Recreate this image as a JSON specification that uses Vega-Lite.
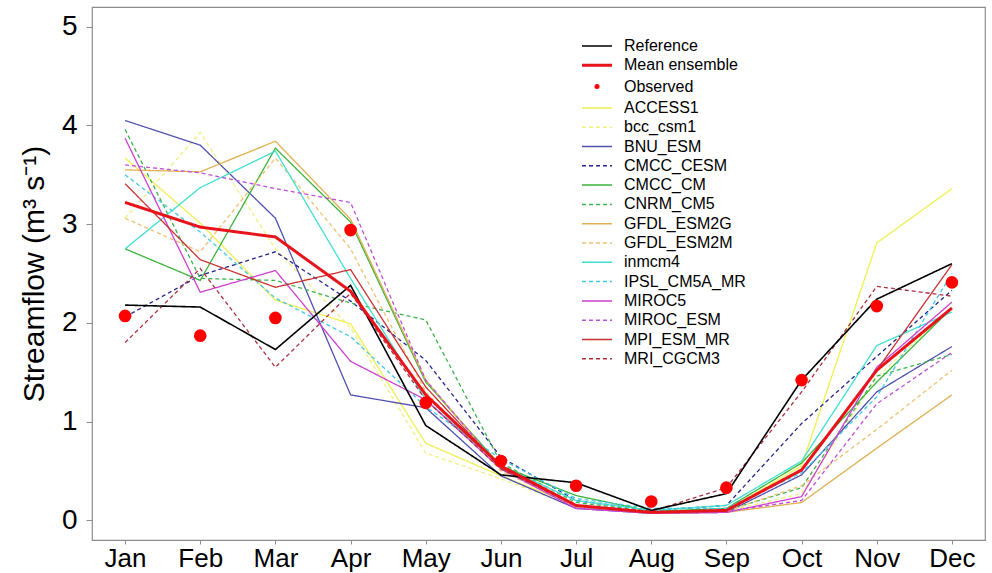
{
  "$schema": "https://vega.github.io/schema/vega-lite/v6.json",
  "width": 893,
  "height": 533,
  "autosize": "none",
  "padding": {"left": 92, "top": 7, "right": 7, "bottom": 33},
  "background": "white",
  "config": {
    "font": "Liberation Sans",
    "view": {"stroke": "#8c8c8c", "strokeWidth": 1.2},
    "axis": {"grid": false, "domain": false, "labelFont": "Liberation Sans", "titleFont": "Liberation Sans", "labelColor": "#000", "titleColor": "#000", "tickColor": "#8c8c8c", "labelFontSize": 26, "titleFontSize": 30, "titleFontWeight": "normal"}
  },
  "data": {"values": [
    {"month":"Jan","series":"Reference","value":2.18},{"month":"Feb","series":"Reference","value":2.16},{"month":"Mar","series":"Reference","value":1.73},{"month":"Apr","series":"Reference","value":2.38},{"month":"May","series":"Reference","value":0.96},{"month":"Jun","series":"Reference","value":0.46},{"month":"Jul","series":"Reference","value":0.38},{"month":"Aug","series":"Reference","value":0.10},{"month":"Sep","series":"Reference","value":0.27},{"month":"Oct","series":"Reference","value":1.42},{"month":"Nov","series":"Reference","value":2.24},{"month":"Dec","series":"Reference","value":2.60},
    {"month":"Jan","series":"Mean ensemble","value":3.22},{"month":"Feb","series":"Mean ensemble","value":2.97},{"month":"Mar","series":"Mean ensemble","value":2.87},{"month":"Apr","series":"Mean ensemble","value":2.32},{"month":"May","series":"Mean ensemble","value":1.27},{"month":"Jun","series":"Mean ensemble","value":0.55},{"month":"Jul","series":"Mean ensemble","value":0.15},{"month":"Aug","series":"Mean ensemble","value":0.08},{"month":"Sep","series":"Mean ensemble","value":0.10},{"month":"Oct","series":"Mean ensemble","value":0.51},{"month":"Nov","series":"Mean ensemble","value":1.52},{"month":"Dec","series":"Mean ensemble","value":2.15},
    {"month":"Jan","series":"Observed","value":2.07},{"month":"Feb","series":"Observed","value":1.87},{"month":"Mar","series":"Observed","value":2.05},{"month":"Apr","series":"Observed","value":2.94},{"month":"May","series":"Observed","value":1.19},{"month":"Jun","series":"Observed","value":0.60},{"month":"Jul","series":"Observed","value":0.35},{"month":"Aug","series":"Observed","value":0.19},{"month":"Sep","series":"Observed","value":0.33},{"month":"Oct","series":"Observed","value":1.42},{"month":"Nov","series":"Observed","value":2.17},{"month":"Dec","series":"Observed","value":2.41},
    {"month":"Jan","series":"ACCESS1","value":3.67},{"month":"Feb","series":"ACCESS1","value":3.01},{"month":"Mar","series":"ACCESS1","value":2.23},{"month":"Apr","series":"ACCESS1","value":1.99},{"month":"May","series":"ACCESS1","value":0.78},{"month":"Jun","series":"ACCESS1","value":0.45},{"month":"Jul","series":"ACCESS1","value":0.15},{"month":"Aug","series":"ACCESS1","value":0.08},{"month":"Sep","series":"ACCESS1","value":0.10},{"month":"Oct","series":"ACCESS1","value":0.55},{"month":"Nov","series":"ACCESS1","value":2.81},{"month":"Dec","series":"ACCESS1","value":3.36},
    {"month":"Jan","series":"bcc_csm1","value":3.06},{"month":"Feb","series":"bcc_csm1","value":3.93},{"month":"Mar","series":"bcc_csm1","value":2.75},{"month":"Apr","series":"bcc_csm1","value":1.95},{"month":"May","series":"bcc_csm1","value":0.68},{"month":"Jun","series":"bcc_csm1","value":0.42},{"month":"Jul","series":"bcc_csm1","value":0.13},{"month":"Aug","series":"bcc_csm1","value":0.07},{"month":"Sep","series":"bcc_csm1","value":0.09},{"month":"Oct","series":"bcc_csm1","value":0.27},{"month":"Nov","series":"bcc_csm1","value":1.45},{"month":"Dec","series":"bcc_csm1","value":2.15},
    {"month":"Jan","series":"BNU_ESM","value":4.05},{"month":"Feb","series":"BNU_ESM","value":3.80},{"month":"Mar","series":"BNU_ESM","value":3.06},{"month":"Apr","series":"BNU_ESM","value":1.27},{"month":"May","series":"BNU_ESM","value":1.14},{"month":"Jun","series":"BNU_ESM","value":0.45},{"month":"Jul","series":"BNU_ESM","value":0.12},{"month":"Aug","series":"BNU_ESM","value":0.07},{"month":"Sep","series":"BNU_ESM","value":0.08},{"month":"Oct","series":"BNU_ESM","value":0.46},{"month":"Nov","series":"BNU_ESM","value":1.30},{"month":"Dec","series":"BNU_ESM","value":1.76},
    {"month":"Jan","series":"CMCC_CESM","value":2.06},{"month":"Feb","series":"CMCC_CESM","value":2.48},{"month":"Mar","series":"CMCC_CESM","value":2.72},{"month":"Apr","series":"CMCC_CESM","value":2.22},{"month":"May","series":"CMCC_CESM","value":1.62},{"month":"Jun","series":"CMCC_CESM","value":0.64},{"month":"Jul","series":"CMCC_CESM","value":0.20},{"month":"Aug","series":"CMCC_CESM","value":0.10},{"month":"Sep","series":"CMCC_CESM","value":0.15},{"month":"Oct","series":"CMCC_CESM","value":0.98},{"month":"Nov","series":"CMCC_CESM","value":1.66},{"month":"Dec","series":"CMCC_CESM","value":2.33},
    {"month":"Jan","series":"CMCC_CM","value":2.75},{"month":"Feb","series":"CMCC_CM","value":2.43},{"month":"Mar","series":"CMCC_CM","value":3.77},{"month":"Apr","series":"CMCC_CM","value":3.02},{"month":"May","series":"CMCC_CM","value":1.40},{"month":"Jun","series":"CMCC_CM","value":0.55},{"month":"Jul","series":"CMCC_CM","value":0.25},{"month":"Aug","series":"CMCC_CM","value":0.09},{"month":"Sep","series":"CMCC_CM","value":0.12},{"month":"Oct","series":"CMCC_CM","value":0.58},{"month":"Nov","series":"CMCC_CM","value":1.40},{"month":"Dec","series":"CMCC_CM","value":2.15},
    {"month":"Jan","series":"CNRM_CM5","value":3.96},{"month":"Feb","series":"CNRM_CM5","value":2.45},{"month":"Mar","series":"CNRM_CM5","value":2.43},{"month":"Apr","series":"CNRM_CM5","value":2.20},{"month":"May","series":"CNRM_CM5","value":2.03},{"month":"Jun","series":"CNRM_CM5","value":0.58},{"month":"Jul","series":"CNRM_CM5","value":0.18},{"month":"Aug","series":"CNRM_CM5","value":0.09},{"month":"Sep","series":"CNRM_CM5","value":0.10},{"month":"Oct","series":"CNRM_CM5","value":0.33},{"month":"Nov","series":"CNRM_CM5","value":1.46},{"month":"Dec","series":"CNRM_CM5","value":1.68},
    {"month":"Jan","series":"GFDL_ESM2G","value":3.55},{"month":"Feb","series":"GFDL_ESM2G","value":3.53},{"month":"Mar","series":"GFDL_ESM2G","value":3.84},{"month":"Apr","series":"GFDL_ESM2G","value":3.05},{"month":"May","series":"GFDL_ESM2G","value":1.42},{"month":"Jun","series":"GFDL_ESM2G","value":0.52},{"month":"Jul","series":"GFDL_ESM2G","value":0.14},{"month":"Aug","series":"GFDL_ESM2G","value":0.07},{"month":"Sep","series":"GFDL_ESM2G","value":0.08},{"month":"Oct","series":"GFDL_ESM2G","value":0.18},{"month":"Nov","series":"GFDL_ESM2G","value":0.73},{"month":"Dec","series":"GFDL_ESM2G","value":1.27},
    {"month":"Jan","series":"GFDL_ESM2M","value":3.06},{"month":"Feb","series":"GFDL_ESM2M","value":2.72},{"month":"Mar","series":"GFDL_ESM2M","value":3.67},{"month":"Apr","series":"GFDL_ESM2M","value":2.75},{"month":"May","series":"GFDL_ESM2M","value":1.30},{"month":"Jun","series":"GFDL_ESM2M","value":0.50},{"month":"Jul","series":"GFDL_ESM2M","value":0.14},{"month":"Aug","series":"GFDL_ESM2M","value":0.07},{"month":"Sep","series":"GFDL_ESM2M","value":0.09},{"month":"Oct","series":"GFDL_ESM2M","value":0.35},{"month":"Nov","series":"GFDL_ESM2M","value":0.92},{"month":"Dec","series":"GFDL_ESM2M","value":1.52},
    {"month":"Jan","series":"inmcm4","value":2.75},{"month":"Feb","series":"inmcm4","value":3.37},{"month":"Mar","series":"inmcm4","value":3.74},{"month":"Apr","series":"inmcm4","value":2.45},{"month":"May","series":"inmcm4","value":1.22},{"month":"Jun","series":"inmcm4","value":0.55},{"month":"Jul","series":"inmcm4","value":0.20},{"month":"Aug","series":"inmcm4","value":0.10},{"month":"Sep","series":"inmcm4","value":0.15},{"month":"Oct","series":"inmcm4","value":0.60},{"month":"Nov","series":"inmcm4","value":1.77},{"month":"Dec","series":"inmcm4","value":2.11},
    {"month":"Jan","series":"IPSL_CM5A_MR","value":3.50},{"month":"Feb","series":"IPSL_CM5A_MR","value":2.92},{"month":"Mar","series":"IPSL_CM5A_MR","value":2.25},{"month":"Apr","series":"IPSL_CM5A_MR","value":1.86},{"month":"May","series":"IPSL_CM5A_MR","value":1.15},{"month":"Jun","series":"IPSL_CM5A_MR","value":0.62},{"month":"Jul","series":"IPSL_CM5A_MR","value":0.22},{"month":"Aug","series":"IPSL_CM5A_MR","value":0.12},{"month":"Sep","series":"IPSL_CM5A_MR","value":0.12},{"month":"Oct","series":"IPSL_CM5A_MR","value":0.48},{"month":"Nov","series":"IPSL_CM5A_MR","value":1.25},{"month":"Dec","series":"IPSL_CM5A_MR","value":2.50},
    {"month":"Jan","series":"MIROC5","value":3.87},{"month":"Feb","series":"MIROC5","value":2.31},{"month":"Mar","series":"MIROC5","value":2.53},{"month":"Apr","series":"MIROC5","value":1.61},{"month":"May","series":"MIROC5","value":1.22},{"month":"Jun","series":"MIROC5","value":0.52},{"month":"Jul","series":"MIROC5","value":0.12},{"month":"Aug","series":"MIROC5","value":0.07},{"month":"Sep","series":"MIROC5","value":0.08},{"month":"Oct","series":"MIROC5","value":0.24},{"month":"Nov","series":"MIROC5","value":1.55},{"month":"Dec","series":"MIROC5","value":2.21},
    {"month":"Jan","series":"MIROC_ESM","value":3.60},{"month":"Feb","series":"MIROC_ESM","value":3.52},{"month":"Mar","series":"MIROC_ESM","value":3.36},{"month":"Apr","series":"MIROC_ESM","value":3.22},{"month":"May","series":"MIROC_ESM","value":1.42},{"month":"Jun","series":"MIROC_ESM","value":0.52},{"month":"Jul","series":"MIROC_ESM","value":0.14},{"month":"Aug","series":"MIROC_ESM","value":0.08},{"month":"Sep","series":"MIROC_ESM","value":0.09},{"month":"Oct","series":"MIROC_ESM","value":0.20},{"month":"Nov","series":"MIROC_ESM","value":1.18},{"month":"Dec","series":"MIROC_ESM","value":1.70},
    {"month":"Jan","series":"MPI_ESM_MR","value":3.41},{"month":"Feb","series":"MPI_ESM_MR","value":2.64},{"month":"Mar","series":"MPI_ESM_MR","value":2.36},{"month":"Apr","series":"MPI_ESM_MR","value":2.54},{"month":"May","series":"MPI_ESM_MR","value":1.35},{"month":"Jun","series":"MPI_ESM_MR","value":0.53},{"month":"Jul","series":"MPI_ESM_MR","value":0.15},{"month":"Aug","series":"MPI_ESM_MR","value":0.08},{"month":"Sep","series":"MPI_ESM_MR","value":0.10},{"month":"Oct","series":"MPI_ESM_MR","value":0.50},{"month":"Nov","series":"MPI_ESM_MR","value":1.52},{"month":"Dec","series":"MPI_ESM_MR","value":2.59},
    {"month":"Jan","series":"MRI_CGCM3","value":1.80},{"month":"Feb","series":"MRI_CGCM3","value":2.55},{"month":"Mar","series":"MRI_CGCM3","value":1.55},{"month":"Apr","series":"MRI_CGCM3","value":2.30},{"month":"May","series":"MRI_CGCM3","value":1.22},{"month":"Jun","series":"MRI_CGCM3","value":0.52},{"month":"Jul","series":"MRI_CGCM3","value":0.15},{"month":"Aug","series":"MRI_CGCM3","value":0.09},{"month":"Sep","series":"MRI_CGCM3","value":0.33},{"month":"Oct","series":"MRI_CGCM3","value":1.30},{"month":"Nov","series":"MRI_CGCM3","value":2.37},{"month":"Dec","series":"MRI_CGCM3","value":2.27}
  ]},
  "encoding": {
    "x": {"field": "month", "type": "ordinal", "sort": ["Jan","Feb","Mar","Apr","May","Jun","Jul","Aug","Sep","Oct","Nov","Dec"],
      "scale": {"type": "point", "padding": 0.44},
      "axis": {"title": null, "labelAngle": 0, "tickSize": 4, "labelPadding": 1, "labelBaseline": "top"}},
    "y": {"field": "value", "type": "quantitative",
      "scale": {"domain": [-0.2, 5.2], "nice": false, "zero": false},
      "axis": {"values": [0,1,2,3,4,5], "tickSize": 6, "labelPadding": 9, "labelFontSize": 28, "title": "Streamflow (m³ s⁻¹)", "titlePadding": 12}},
    "color": {"field": "series", "type": "nominal",
      "scale": {"domain": ["Reference","Mean ensemble","Observed","ACCESS1","bcc_csm1","BNU_ESM","CMCC_CESM","CMCC_CM","CNRM_CM5","GFDL_ESM2G","GFDL_ESM2M","inmcm4","IPSL_CM5A_MR","MIROC5","MIROC_ESM","MPI_ESM_MR","MRI_CGCM3"],
        "range": ["#000000","#e8141c","#ff0000","#f0f050","#eef080","#5050b0","#25258f","#3cb43c","#3cb450","#e0b050","#f0c070","#40e0d0","#40c8e8","#d040d0","#c050d8","#c83232","#b03040"]},
      "legend": {"title": null, "orient": "none", "legendX": 497, "legendY": 31, "symbolType": "stroke", "symbolSize": 900, "symbolStrokeWidth": 1.5, "labelFont": "Liberation Sans", "labelFontSize": 16, "labelColor": "#000", "labelOffset": 19, "rowPadding": 3.3, "padding": 0, "labelLimit": 300,
        "encode": {"symbols": {"update": {
          "stroke": {"scale": "color", "field": "value"},
          "strokeWidth": {"signal": "datum.value === 'Mean ensemble' ? 3 : datum.value === 'Observed' ? 5 : 1.5"},
          "strokeDashOffset": {"signal": "datum.value === 'Observed' ? -15 : 0"},
          "strokeCap": {"signal": "datum.value === 'Observed' ? 'round' : 'butt'"}}}}}},
    "strokeDash": {"field": "series", "type": "nominal",
      "scale": {"domain": ["Reference","Mean ensemble","Observed","ACCESS1","bcc_csm1","BNU_ESM","CMCC_CESM","CMCC_CM","CNRM_CM5","GFDL_ESM2G","GFDL_ESM2M","inmcm4","IPSL_CM5A_MR","MIROC5","MIROC_ESM","MPI_ESM_MR","MRI_CGCM3"],
        "range": [[1,0],[1,0],[0.01,100],[1,0],[4,3],[1,0],[4,3],[1,0],[4,3],[1,0],[4,3],[1,0],[4,3],[1,0],[4,3],[1,0],[4,3]]},
      "legend": {"title": null}}
  },
  "layer": [
    {"transform": [{"filter": "datum.series !== 'Observed' && datum.series !== 'Reference' && datum.series !== 'Mean ensemble'"}],
     "mark": {"type": "line", "strokeWidth": 1.3}},
    {"transform": [{"filter": "datum.series === 'Reference'"}],
     "mark": {"type": "line", "strokeWidth": 1.6}},
    {"transform": [{"filter": "datum.series === 'Mean ensemble'"}],
     "mark": {"type": "line", "strokeWidth": 3}},
    {"transform": [{"filter": "datum.series === 'Observed'"}],
     "mark": {"type": "point", "filled": true, "shape": "circle", "size": 160, "opacity": 1}}
  ]
}
